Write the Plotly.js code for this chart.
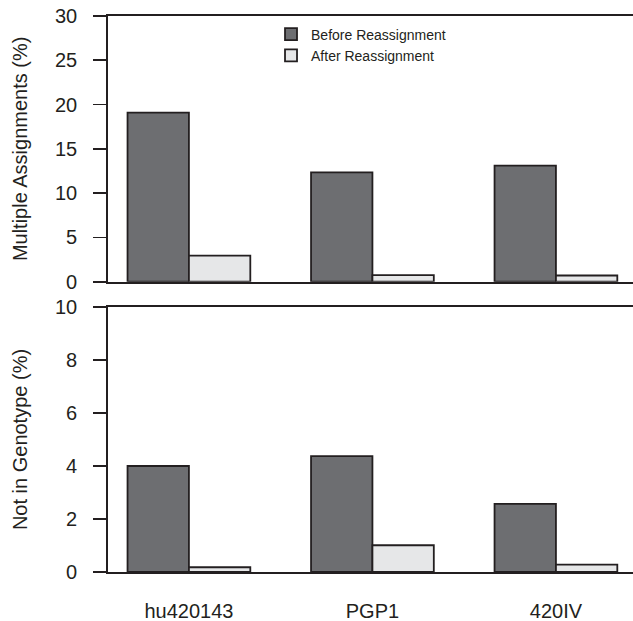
<!DOCTYPE html>
<html>
<head>
<meta charset="utf-8">
<script src="https://cdn.plot.ly/plotly-3.0.1.min.js"></script>
<style>html,body{margin:0;padding:0;background:#fff}#chart{width:633px;height:621px}</style>
</head>
<body>
<div id="chart"></div>
<script>
const categories = ["hu420143", "PGP1", "420IV"];
const seriesNames = ["Before Reassignment", "After Reassignment"];
const multipleBefore = [19.1, 12.35, 13.1];
const multipleAfter = [2.95, 0.75, 0.7];
const notInGenotypeBefore = [4.0, 4.37, 2.57];
const notInGenotypeAfter = [0.18, 1.01, 0.28];
const topTicks = [0, 5, 10, 15, 20, 25, 30];
const bottomTicks = [0, 2, 4, 6, 8, 10];

const ink = '#231f20';
const darkFill = '#6d6e71';
const lightFill = '#e6e7e8';
const font = {family: 'Liberation Sans, Arial, sans-serif', color: ink};

function bar(y, name, fill, xa, ya, show) {
  return {type: 'bar', x: categories, y: y, name: name, xaxis: xa, yaxis: ya,
    showlegend: show, marker: {color: fill, line: {color: ink, width: 1.8}}};
}

const data = [
  bar(multipleBefore, seriesNames[0], darkFill, 'x', 'y', true),
  bar(multipleAfter, seriesNames[1], lightFill, 'x', 'y', true),
  bar(notInGenotypeBefore, seriesNames[0], darkFill, 'x2', 'y2', false),
  bar(notInGenotypeAfter, seriesNames[1], lightFill, 'x2', 'y2', false)
];

const xCommon = {range: [-0.441, 2.42], showline: true, mirror: true, linecolor: ink, linewidth: 1.8,
  showgrid: false, zeroline: false, fixedrange: true};
const yCommon = {showline: true, linecolor: ink, linewidth: 1.8, ticks: 'outside', ticklen: 13,
  tickwidth: 1.8, tickcolor: ink, showgrid: false, zeroline: false, tickfont: {size: 20},
  ticklabelstandoff: 12};

const layout = {
  width: 633, height: 621,
  margin: {l: 108, r: 0, t: 16, b: 49},
  paper_bgcolor: '#fff', plot_bgcolor: '#fff',
  font: font,
  barmode: 'group', bargap: 0.331, bargroupgap: 0,
  showlegend: true,
  legend: {x: 0.3105, y: 0.9955, xanchor: 'left', yanchor: 'top', font: {size: 14},
    bgcolor: 'rgba(0,0,0,0)', traceorder: 'normal', tracegroupgap: 0},
  xaxis: Object.assign({}, xCommon, {anchor: 'y', showticklabels: false, ticks: ''}),
  yaxis: Object.assign({}, yCommon, {domain: [0.5221, 1], range: [0, 30], tickvals: topTicks,
    title: {text: 'Multiple Assignments (%)', font: {size: 20}, standoff: 22}}),
  xaxis2: Object.assign({}, xCommon, {anchor: 'y2', ticks: 'outside', ticklen: 20,
    tickcolor: 'rgba(0,0,0,0)', tickfont: {size: 20}}),
  yaxis2: Object.assign({}, yCommon, {domain: [0, 0.4766], range: [0, 10], tickvals: bottomTicks,
    title: {text: 'Not in Genotype (%)', font: {size: 20}, standoff: 22}})
};

Plotly.newPlot('chart', data, layout, {displayModeBar: false, staticPlot: true});
</script>
</body>
</html>
